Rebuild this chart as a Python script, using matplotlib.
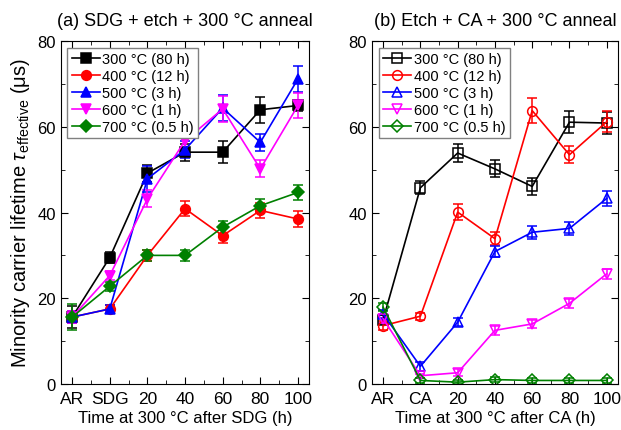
import numpy as np
import matplotlib
matplotlib.use('Agg')
from matplotlib import pyplot as plt
from matplotlib.ticker import MultipleLocator

plt.rcParams['font.family'] = ['Liberation Sans', 'DejaVu Sans']
plt.rcParams['mathtext.fontset'] = 'custom'
plt.rcParams['mathtext.rm'] = 'Liberation Sans'
plt.rcParams['mathtext.it'] = 'Liberation Sans:italic'

labels = ['300 °C (80 h)', '400 °C (12 h)', '500 °C (3 h)', '600 °C (1 h)', '700 °C (0.5 h)']
colors = ['black', 'red', 'blue', 'magenta', 'green']
markers = ['s', 'o', '^', 'v', 'D']

ticks_a = ['AR', 'SDG', '20', '40', '60', '80', '100']
ticks_b = ['AR', 'CA', '20', '40', '60', '80', '100']

# (a) SDG + etch + 300 C anneal
a_300 = [15.6, 29.5, 49.2, 54.1, 54.1, 64.0, 65.0]
a_400 = [15.6, 17.5, 30.0, 40.9, 34.6, 40.5, 38.5]
a_500 = [15.6, 17.5, 47.9, 54.7, 64.4, 56.4, 71.2]
a_600 = [15.6, 25.3, 43.2, 56.8, 64.2, 50.2, 65.0]
a_700 = [15.6, 22.8, 30.0, 30.0, 36.6, 41.6, 44.7]
a_err_300 = [2.5, 1.2, 2.0, 2.0, 2.5, 3.0, 1.2]
a_err_400 = [1.5, 1.0, 1.2, 1.8, 1.8, 1.8, 1.8]
a_err_500 = [1.5, 1.0, 3.0, 2.0, 3.0, 2.0, 3.0]
a_err_600 = [1.5, 1.0, 2.0, 2.5, 3.0, 2.0, 3.0]
a_err_700 = [3.0, 1.0, 1.2, 1.2, 1.5, 1.5, 1.8]

# (b) Etch + CA + 300 C anneal
b_300 = [15.0, 45.8, 53.9, 50.2, 46.1, 61.1, 60.9]
b_400 = [13.6, 15.8, 40.1, 33.9, 63.8, 53.5, 61.2]
b_500 = [16.3, 4.1, 14.4, 30.9, 35.4, 36.3, 43.3]
b_600 = [15.2, 1.9, 2.6, 12.5, 14.0, 18.8, 25.7]
b_700 = [17.9, 0.8, 0.4, 1.0, 0.8, 0.8, 0.8]
b_err_300 = [1.0, 1.5, 2.2, 2.0, 2.0, 2.5, 2.5]
b_err_400 = [1.0, 0.8, 1.8, 1.5, 3.0, 2.0, 2.5]
b_err_500 = [1.0, 1.0, 1.0, 1.2, 1.5, 1.5, 1.8]
b_err_600 = [1.0, 0.5, 0.8, 1.0, 1.0, 1.0, 1.2]
b_err_700 = [1.0, 0.5, 0.5, 0.5, 0.5, 0.5, 0.5]

a_vals = [a_300, a_400, a_500, a_600, a_700]
a_errs = [a_err_300, a_err_400, a_err_500, a_err_600, a_err_700]
b_vals = [b_300, b_400, b_500, b_600, b_700]
b_errs = [b_err_300, b_err_400, b_err_500, b_err_600, b_err_700]

fig = plt.figure(figsize=(6.21, 4.31), dpi=100)
ax1 = fig.add_axes([0.098, 0.107, 0.400, 0.795])
ax2 = fig.add_axes([0.599, 0.107, 0.396, 0.795])

x = np.arange(7)


def draw_panel(ax, vals, errs, filled, ticklabels, xlabel, title):
    handles = []
    for v, e, c, m, lab in zip(vals, errs, colors, markers, labels):
        ms = {'s': 6.5, 'o': 7, '^': 7.5, 'v': 7.5, 'D': 6}[m]
        cont = ax.errorbar(x, v, yerr=e, color=c, marker=m, markersize=ms,
                           markerfacecolor=c if filled else 'none',
                           markeredgecolor=c, markeredgewidth=1.1,
                           linewidth=1.2, elinewidth=1.1, capsize=3.5,
                           capthick=1.1, label=lab)
        handles.append(cont[0])
    ax.set_xlim(-0.3, 6.3)
    ax.set_ylim(0, 80)
    ax.set_xticks(x)
    ax.set_xticklabels(ticklabels)
    ax.xaxis.set_minor_locator(MultipleLocator(0.5))
    ax.yaxis.set_major_locator(MultipleLocator(20))
    ax.yaxis.set_minor_locator(MultipleLocator(10))
    ax.tick_params(which='both', direction='in', top=True, right=True)
    ax.tick_params(axis='x', labelsize=12.5, pad=5)
    ax.tick_params(axis='y', labelsize=12)
    ax.tick_params(which='major', length=5)
    ax.tick_params(which='minor', length=3)
    ax.set_xlabel(xlabel, fontsize=12, labelpad=3)
    ax.set_title(title, fontsize=13, pad=12)
    leg = ax.legend(handles, labels, loc='upper left', fontsize=10.5,
                    handlelength=1.9, handletextpad=0.2, borderpad=0.3,
                    labelspacing=0.2, fancybox=False, edgecolor='gray',
                    framealpha=1, borderaxespad=0.45)
    leg.get_frame().set_linewidth(1.0)


draw_panel(ax1, a_vals, a_errs, True, ticks_a,
           'Time at 300 °C after SDG (h)', '(a) SDG + etch + 300 °C anneal')
draw_panel(ax2, b_vals, b_errs, False, ticks_b,
           'Time at 300 °C after CA (h)', '(b) Etch + CA + 300 °C anneal')

ax1.set_ylabel(r'Minority carrier lifetime $\tau_{\mathregular{effective}}$ (μs)',
               fontsize=14.5, labelpad=4)

fig.savefig('out.png', dpi=100)
